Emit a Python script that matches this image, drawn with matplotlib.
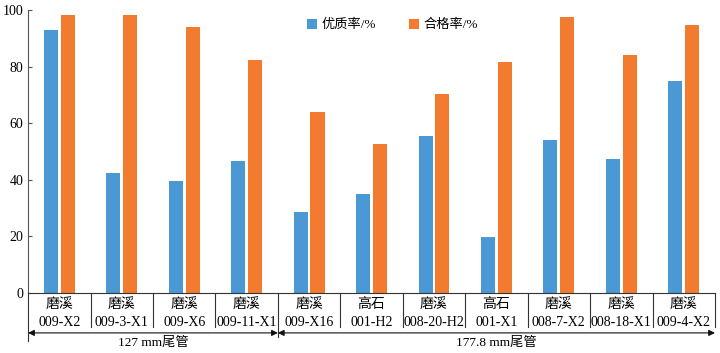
import numpy as np
import matplotlib
matplotlib.use("Agg")
import matplotlib.pyplot as plt

plt.rcParams["font.family"] = ["Liberation Serif", "Noto Sans CJK SC"]

wells = ["磨溪\n009-X2", "磨溪\n009-3-X1", "磨溪\n009-X6", "磨溪\n009-11-X1",
         "磨溪\n009-X16", "高石\n001-H2", "磨溪\n008-20-H2", "高石\n001-X1",
         "磨溪\n008-7-X2", "磨溪\n008-18-X1", "磨溪\n009-4-X2"]
good_rate = [93.0, 42.4, 39.7, 46.6, 28.7, 35.0, 55.5, 19.9, 54.1, 47.4, 74.9]
pass_rate = [98.2, 98.2, 93.8, 82.4, 63.8, 52.6, 70.4, 81.6, 97.6, 84.1, 94.5]
groups = [("127 mm尾管", 0, 4), ("177.8 mm尾管", 4, 11)]

BLUE, ORANGE = "#4A98D4", "#F27B30"

fig = plt.figure(figsize=(7.2, 3.53), dpi=100)
ax = fig.add_axes([0.039, 0.17, 0.954, 0.802])

x = np.arange(len(wells))
w = 0.225
ax.bar(x - 0.135, good_rate, w, color=BLUE, label="优质率/%")
ax.bar(x + 0.135, pass_rate, w, color=ORANGE, label="合格率/%")

ax.set_xlim(-0.5, len(wells) - 0.5)
ax.set_ylim(0, 100)
ax.set_yticks(range(0, 101, 20))
ax.set_xticks([])
ax.tick_params(axis="y", labelsize=10, length=3, direction="in", color="#555555")
for s in ("top", "right"):
    ax.spines[s].set_visible(False)
ax.spines["left"].set_color("#555555")
ax.spines["bottom"].set_color("#333333")

# category table under the axis
tr = ax.get_xaxis_transform()
n = len(wells)
for b in np.arange(-0.5, n + 0.5, 1.0):
    bottom = -0.12
    if b == -0.5:
        bottom = -0.17
    elif b == 3.5:
        bottom = -0.155
    ax.plot([b, b], [0, bottom], color="#333333", lw=0.8, transform=tr, clip_on=False)
for i, lab in enumerate(wells):
    top, bot = lab.split("\n")
    ax.text(i, -0.04, top, transform=tr, ha="center", va="center", fontsize=10)
    ax.text(i, -0.103, bot, transform=tr, ha="center", va="center", fontsize=10)

for name, a, b in groups:
    ax.annotate("", xy=(a - 0.5, -0.141), xytext=(b - 0.5, -0.141), xycoords=tr,
                textcoords=tr, annotation_clip=False,
                arrowprops=dict(arrowstyle="<|-|>", color="#111111", lw=0.8,
                                shrinkA=0, shrinkB=0, mutation_scale=9))
    ax.text((a + b - 1) / 2, -0.175, name, transform=tr, ha="center", va="center",
            fontsize=9.5)

ax.legend(loc="upper center", bbox_to_anchor=(0.53, 1.01), ncol=2, frameon=False,
          fontsize=9.5, handlelength=0.75, handleheight=0.75, columnspacing=2.5,
          handletextpad=0.35)

fig.savefig("out.png", dpi=100)
